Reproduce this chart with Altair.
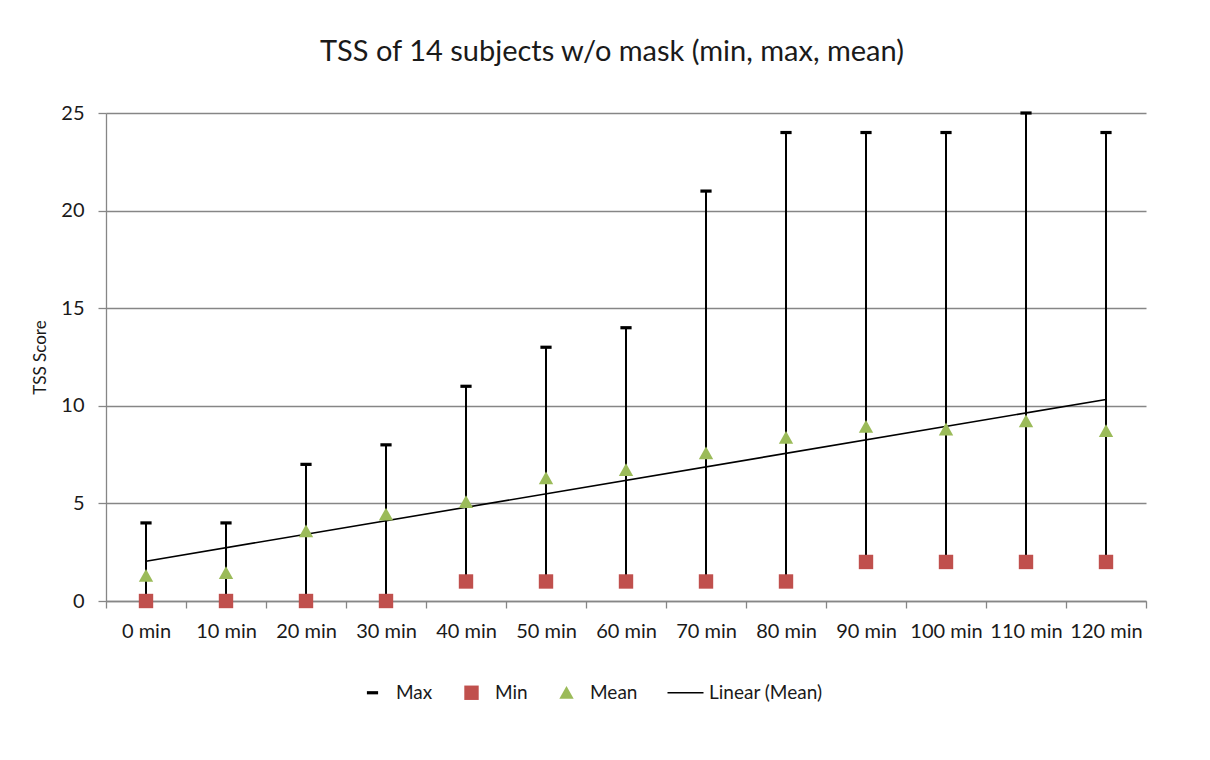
import altair as alt
import pandas as pd

categories = ["0 min", "10 min", "20 min", "30 min", "40 min", "50 min", "60 min",
              "70 min", "80 min", "90 min", "100 min", "110 min", "120 min"]
minutes = [0, 10, 20, 30, 40, 50, 60, 70, 80, 90, 100, 110, 120]
max_vals = [4, 4, 7, 8, 11, 13, 14, 21, 24, 24, 24, 25, 24]
min_vals = [0, 0, 0, 0, 1, 1, 1, 1, 1, 2, 2, 2, 2]
mean_vals = [1.29, 1.43, 3.57, 4.43, 5.07, 6.29, 6.71, 7.57, 8.36, 8.93, 8.79, 9.21, 8.71]
y_ticks = [0, 5, 10, 15, 20, 25]
boundary_ticks = [-5, 5, 15, 25, 35, 45, 55, 65, 75, 85, 95, 105, 115, 125]

series_names = ["Max", "Min", "Mean", "Linear (Mean)"]
series_colors = ["#000000", "#C0504D", "#9BBB59", "#000000"]
series_shapes = [
    "M-0.7,-0.2H0.7V0.2H-0.7Z",
    "M-0.9,-0.9H0.9V0.9H-0.9Z",
    "M0,-0.85L0.9,0.75H-0.9Z",
    "M-2.25,-0.09H2.25V0.09H-2.25Z",
]

FONT = "Lato"
TEXT = "#1a1a1a"
GRID = "#868686"

wide = pd.DataFrame({"time": categories, "minute": minutes,
                     "max": max_vals, "min": min_vals, "mean": mean_vals})
long_rows = []
for i, m in enumerate(minutes):
    long_rows.append({"minute": m, "series": "Max", "value": max_vals[i]})
    long_rows.append({"minute": m, "series": "Min", "value": min_vals[i]})
    long_rows.append({"minute": m, "series": "Mean", "value": mean_vals[i]})
long = pd.DataFrame(long_rows)

xscale = alt.Scale(domain=[-5, 125], nice=False, zero=False)
yscale = alt.Scale(domain=[0, 25], nice=False)

label_cases = " : ".join(
    f"datum.value === {m} ? '{c}'" for m, c in zip(minutes, categories)
) + " : ''"

# axis 1: tick marks at category boundaries and the axis line
xaxis_ticks = alt.Axis(
    title=None,
    orient="bottom",
    values=boundary_ticks,
    labels=False,
    grid=False,
    tickSize=7,
    tickColor=GRID,
    tickWidth=1.3,
    domainColor=GRID,
    domainWidth=1.3,
)
# axis 2: category labels at band centres
xaxis_labels = alt.Axis(
    title=None,
    orient="bottom",
    values=minutes,
    labelExpr=label_cases,
    labelOverlap=False,
    labelFlush=False,
    grid=False,
    ticks=False,
    tickSize=0,
    domain=False,
    labelFont=FONT,
    labelFontSize=20,
    labelColor=TEXT,
    labelPadding=20,
)
yaxis = alt.Axis(
    title="TSS Score",
    values=y_ticks,
    grid=True,
    gridColor=GRID,
    gridWidth=1.3,
    tickSize=8,
    tickColor=GRID,
    tickWidth=1.3,
    domainColor=GRID,
    domainWidth=1.3,
    labelFont=FONT,
    labelFontSize=20,
    labelColor=TEXT,
    labelPadding=14,
    titleFont=FONT,
    titleFontSize=17,
    titleFontWeight="normal",
    titleColor=TEXT,
    titlePadding=11,
)

rules = alt.Chart(wide).mark_rule(color="black", strokeWidth=2).encode(
    x=alt.X("minute:Q", scale=xscale, axis=xaxis_ticks),
    y=alt.Y("min:Q", scale=yscale, axis=yaxis),
    y2="max:Q",
)

trend = alt.Chart(wide).transform_regression(
    "minute", "mean", method="linear"
).mark_line(color="black", strokeWidth=1.6).encode(
    x=alt.X("minute:Q", scale=xscale, axis=None),
    y=alt.Y("mean:Q", scale=yscale, axis=yaxis),
)

legend = alt.Legend(
    title=None,
    orient="none",
    direction="horizontal",
    legendX=257,
    legendY=570,
    labelFont=FONT,
    labelFontSize=19,
    labelColor=TEXT,
    labelOffset=14,
    columnPadding=29,
    symbolSize=256,
    symbolStrokeWidth=0,
    padding=0,
)

points = alt.Chart(long).mark_point(filled=True, opacity=1, size=256, strokeWidth=0).encode(
    x=alt.X("minute:Q", scale=xscale, axis=xaxis_labels),
    y=alt.Y("value:Q", scale=yscale, axis=yaxis),
    color=alt.Color("series:N", scale=alt.Scale(domain=series_names, range=series_colors), legend=legend),
    shape=alt.Shape("series:N", scale=alt.Scale(domain=series_names, range=series_shapes), legend=legend),
)

chart = alt.layer(rules, trend, points).resolve_axis(x="independent").properties(
    width=1040,
    height=488,
    padding={"left": 98, "top": 105, "right": 56, "bottom": 151},
    autosize=alt.AutoSizeParams(type="none"),
    background="white",
    title=alt.TitleParams(
        "TSS of 14 subjects w/o mask (min, max, mean)",
        font=FONT, fontSize=29, fontWeight="normal", color=TEXT,
        anchor="middle", baseline="bottom", offset=7, dx=-14,
    ),
).configure_view(stroke="transparent", strokeWidth=0)

chart.save("out.html", embed_options={"renderer": "svg", "actions": False})
